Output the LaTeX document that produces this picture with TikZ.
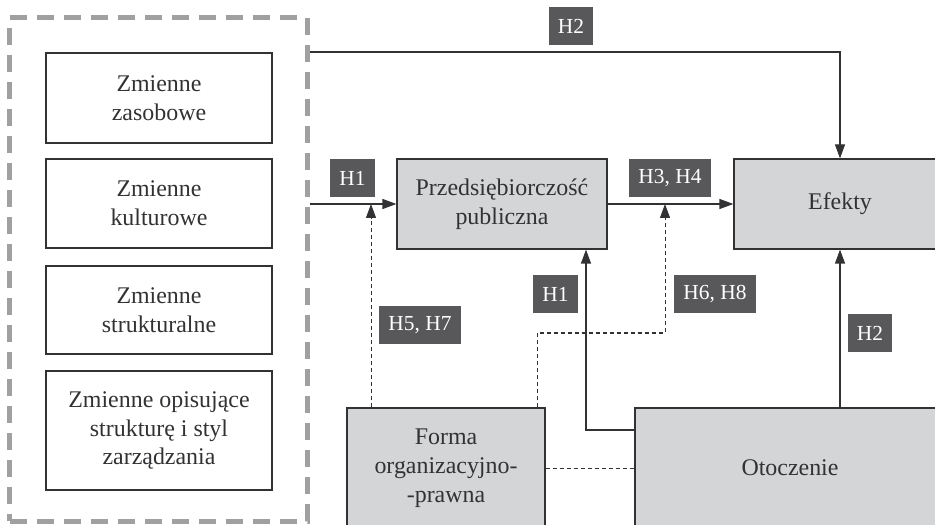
\documentclass[tikz,border=0pt]{standalone}
\usepackage{fontspec}
\setmainfont{Liberation Serif}
\usetikzlibrary{arrows.meta}
\definecolor{szary}{RGB}{212,213,215}
\definecolor{ciemny}{RGB}{88,88,90}
\definecolor{ramka}{RGB}{160,160,160}
\definecolor{linia}{RGB}{50,50,52}
\begin{document}
\begin{tikzpicture}[x=1bp,y=-1bp,>={Triangle[length=14bp,width=10bp]},
  pole/.style={draw=linia,line width=1.2bp,inner sep=0pt,align=center,text=linia,font=\fontsize{24}{29}\selectfont},
  szare/.style={pole,fill=szary},
  etykieta/.style={fill=ciemny,text=white,inner xsep=9bp,minimum height=38bp,font=\fontsize{21.5}{24}\selectfont},
  strzalka/.style={draw=linia,line width=1.2bp,->},
  kreski/.style={draw=linia,line width=1bp,dash pattern=on 4bp off 3bp}]
\useasboundingbox (0,0) rectangle (935,525);
\clip (0,0) rectangle (935,525);
% grupa zmiennych
\node [draw=ramka,line width=5bp,dash pattern=on 17bp off 10bp,minimum width=297bp,minimum height=503bp] (grupa) at (158.5,269.5) {};
\node [pole,minimum width=226bp,minimum height=90bp] (zasobowe) at (159,98) {Zmienne\\zasobowe};
\node [pole,minimum width=226bp,minimum height=89bp] (kulturowe) at (159,203.5) {Zmienne\\kulturowe};
\node [pole,minimum width=226bp,minimum height=88bp] (strukturalne) at (159,310) {Zmienne\\strukturalne};
\node [pole,minimum width=226bp,minimum height=119bp] (opisujace) at (159,430.5) {Zmienne opisujące\\strukturę i styl\\zarządzania};
% bloki szare
\node [szare,minimum width=210bp,minimum height=90bp] (przeds) at (502,204) {Przedsiębiorczość\\publiczna};
\node [szare,minimum width=212bp,minimum height=90bp] (efekty) at (840,204) {Efekty};
\node [szare,minimum width=198bp,minimum height=120bp] (forma) at (446,468) {Forma\\organizacyjno-\\-prawna};
\node [szare,minimum width=310bp,minimum height=120bp] (otoczenie) at (790,468) {Otoczenie};
% polaczenia
\draw [strzalka] (grupa.east |- 0,52) -| (efekty.north);
\draw [strzalka] (grupa.east |- przeds.west) -- (przeds.west);
\draw [strzalka] (przeds.east) -- (efekty.west);
\draw [strzalka] (otoczenie.north -| efekty.south) -- (efekty.south);
\draw [strzalka] (otoczenie.west |- 0,430) -| (przeds.south -| 586,0);
\draw [kreski,->] (forma.north -| 371,0) -- (371,0 |- przeds.west);
\draw [kreski,->] (forma.north -| 537,0) |- (665,333) -- (665,0 |- przeds.east);
\draw [kreski] (forma.east) -- (otoczenie.west);
% hipotezy
\node [etykieta] (h2a) at (571,26.5) {H2};
\node [etykieta] (h1a) at (352.5,178.5) {H1};
\node [etykieta] (h34) at (670,178.5) {H3, H4};
\node [etykieta] (h1b) at (555.5,294.5) {H1};
\node [etykieta] (h57) at (420,325) {H5, H7};
\node [etykieta] (h68) at (715,294.5) {H6, H8};
\node [etykieta] (h2b) at (870,333) {H2};
\end{tikzpicture}
\end{document}
